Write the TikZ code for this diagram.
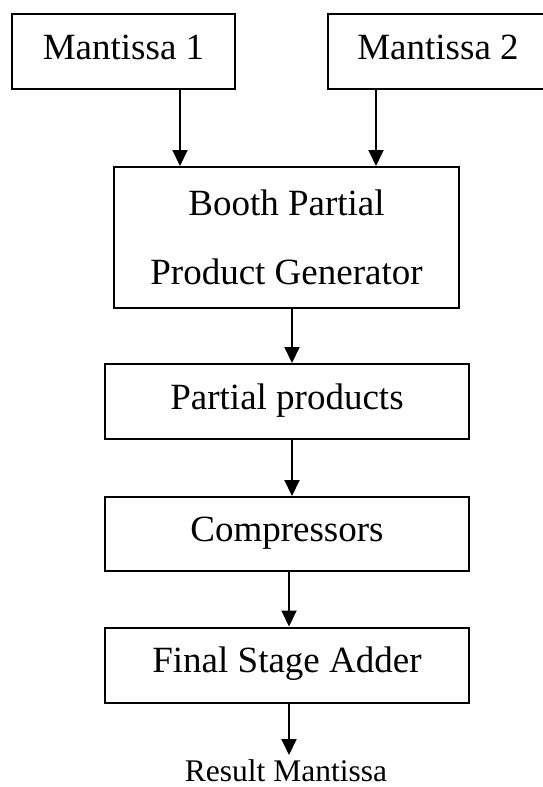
\documentclass[tikz,border=0pt]{standalone}
\usepackage{fontspec}
\setmainfont{Liberation Serif}
\usetikzlibrary{arrows.meta}
\begin{document}
\begin{tikzpicture}[x=1pt,y=-1pt,
  blk/.style={draw,line width=2pt,inner sep=0pt,font=\fontsize{37}{69}\selectfont,align=center,text height=23pt,text depth=8pt},
  arr/.style={line width=2pt,-{Triangle[width=15pt,length=16pt]}},
  lbl/.style={inner sep=0pt,font=\fontsize{31.5}{36}\selectfont,anchor=base}]
\useasboundingbox (0,0) rectangle (542,787);
\node[blk,minimum width=223pt,minimum height=75pt] (m1) at (123.5,51.5) {Mantissa 1};
\node[blk,minimum width=220pt,minimum height=75pt] (m2) at (438,51.5) {Mantissa 2};
\node[draw,line width=2pt,inner sep=0pt,font=\fontsize{37}{69}\selectfont,align=center,minimum width=345pt,minimum height=141pt] (booth) at (286.5,237.5) {Booth Partial\\Product Generator};
\node[blk,minimum width=364pt,minimum height=75pt] (pp) at (287,401.5) {Partial products};
\node[blk,minimum width=364pt,minimum height=74pt] (comp) at (287,534) {Compressors};
\node[blk,minimum width=364pt,minimum height=75pt] (fsa) at (287,665) {Final Stage Adder};
\node[lbl] (res) at (286,781) {Result Mantissa};
\coordinate (xa) at (180,0);
\coordinate (xb) at (376,0);
\coordinate (xc) at (292,0);
\coordinate (xd) at (289,0);
\coordinate (rtop) at (289,755);
\draw[arr] (xa |- m1.south) -- (xa |- booth.north);
\draw[arr] (xb |- m2.south) -- (xb |- booth.north);
\draw[arr] (xc |- booth.south) -- (xc |- pp.north);
\draw[arr] (xc |- pp.south) -- (xc |- comp.north);
\draw[arr] (xd |- comp.south) -- (xd |- fsa.north);
\draw[arr] (xd |- fsa.south) -- (rtop);
\end{tikzpicture}
\end{document}
